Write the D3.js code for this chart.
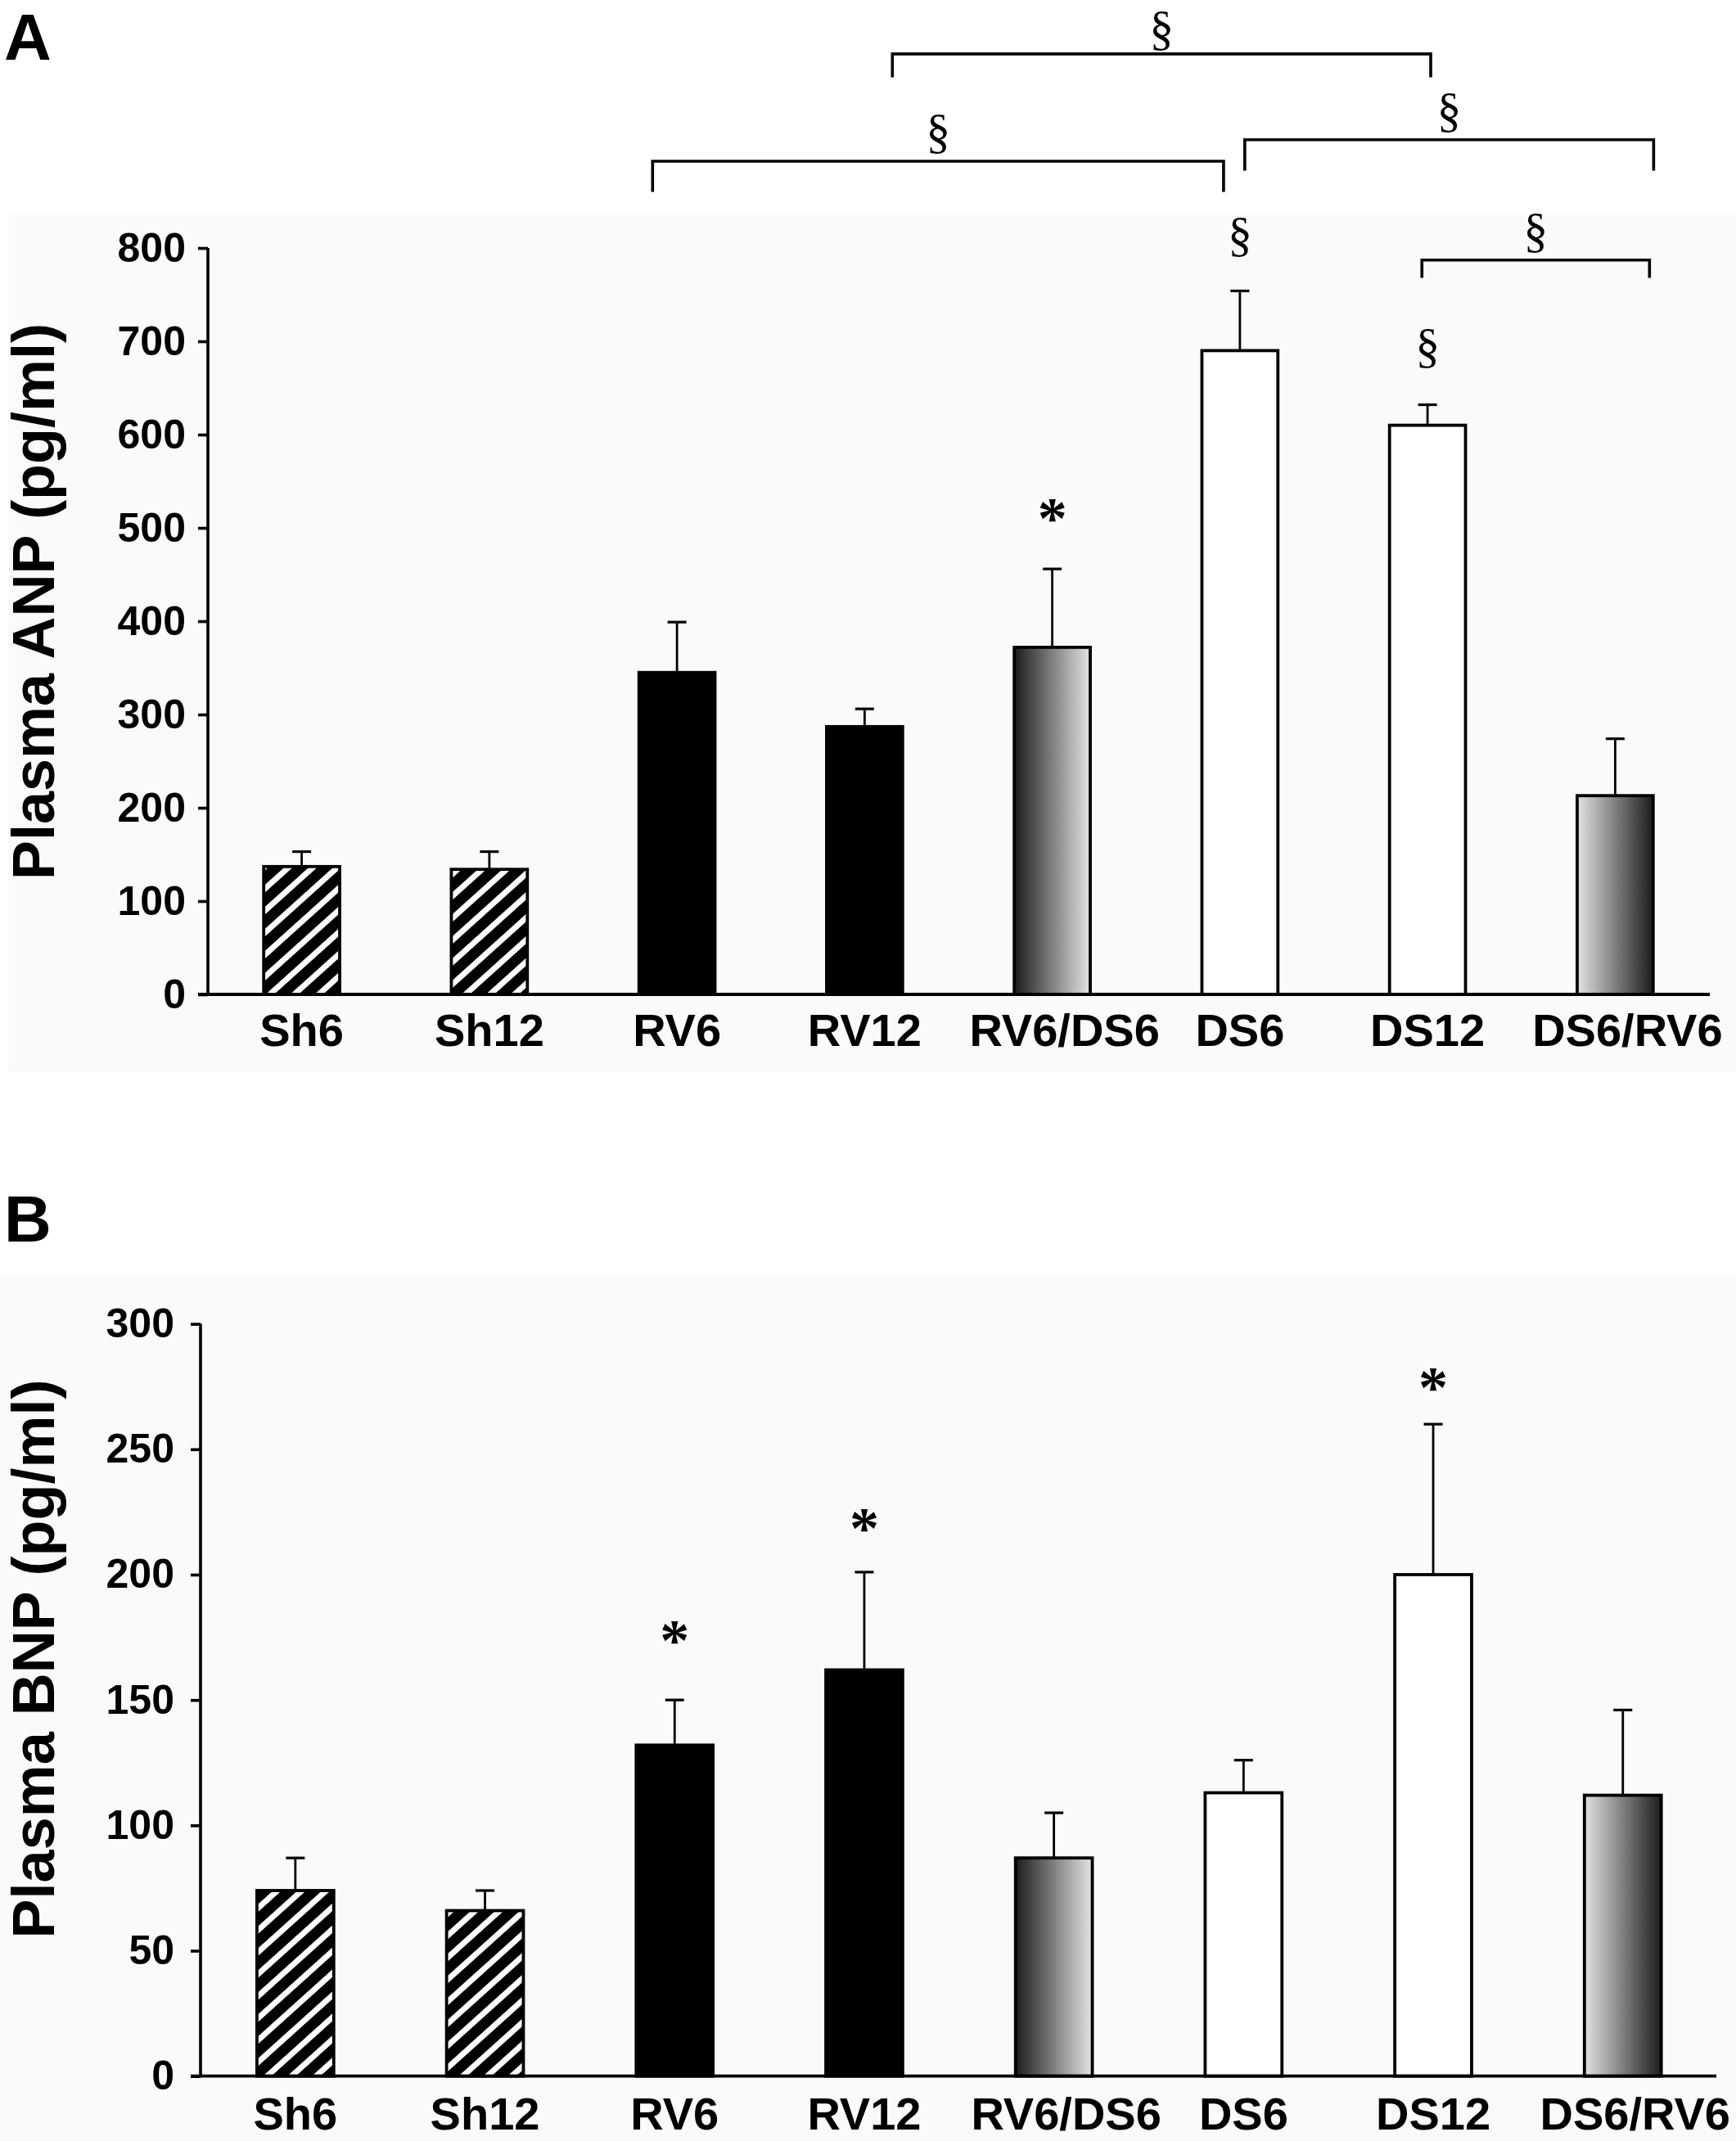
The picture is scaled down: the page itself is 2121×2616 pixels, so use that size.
<!DOCTYPE html>
<html>
<head>
<meta charset="utf-8">
<script src="https://cdn.jsdelivr.net/npm/d3@7/dist/d3.min.js"></script>
<style>
  html, body { margin: 0; padding: 0; background: #ffffff; }
  svg { display: block; }
</style>
</head>
<body>
<script>
// ---------------- DATA ----------------
const categories = ["Sh6", "Sh12", "RV6", "RV12", "RV6/DS6", "DS6", "DS12", "DS6/RV6"];

// Panel A: Plasma ANP (pg/ml)
const anpMean = [137, 134, 345, 287, 372, 690, 610, 213];
const anpErrTop = [153, 153, 399, 306, 456, 754, 632, 274];
const anpTicks = [0, 100, 200, 300, 400, 500, 600, 700, 800];

// Panel B: Plasma BNP (pg/ml)
const bnpMean = [74, 66, 132, 162, 87, 113, 200, 112];
const bnpErrTop = [87, 74, 150, 201, 105, 126, 260, 146];
const bnpTicks = [0, 50, 100, 150, 200, 250, 300];

// significance marks above bars (value = vertical anchor in data units)
const anpMarkCats = ["RV6/DS6", "DS6", "DS12"];
const anpMarkSyms = ["*", "§", "§"];
const anpMarkAt = [519, 813, 694];

const bnpMarkCats = ["RV6", "RV12", "DS12"];
const bnpMarkSyms = ["*", "*", "*"];
const bnpMarkAt = [177, 222, 278];

// comparison brackets in panel A: [fromCat, fromShift(steps), toCat, toShift(steps), lineValue, legEndValue]
const anpBrackets = [
  ["RV12", 0.148, "DS12", 0.017, 1008, 983],
  ["RV6", -0.13, "DS6", -0.087, 893, 860],
  ["DS6", 0.026, "DS6/RV6", 0.205, 916, 883],
  ["DS12", -0.03, "DS6/RV6", 0.183, 787, 768]
];

// ---------------- DRAW ----------------
const W = 2121, H = 2616;
const svg = d3.select("body").append("svg")
  .attr("width", W).attr("height", H)
  .attr("viewBox", `0 0 ${W} ${H}`);

svg.append("rect").attr("width", W).attr("height", H).attr("fill", "#ffffff");

const defs = svg.append("defs");
// hatch pattern
const pat = defs.append("pattern")
  .attr("id", "hatch").attr("patternUnits", "userSpaceOnUse")
  .attr("width", 20).attr("height", 20)
  .attr("patternTransform", "rotate(-42)");
pat.append("rect").attr("width", 20).attr("height", 20).attr("fill", "#000");
pat.append("rect").attr("width", 20).attr("height", 7).attr("fill", "#fff");
// gradients
const gDL = defs.append("linearGradient").attr("id", "gradDL")
  .attr("x1", 0).attr("x2", 1).attr("y1", 0).attr("y2", 0);
gDL.append("stop").attr("offset", "0%").attr("stop-color", "#1c1c1c");
gDL.append("stop").attr("offset", "100%").attr("stop-color", "#e4e4e4");
const gLD = defs.append("linearGradient").attr("id", "gradLD")
  .attr("x1", 0).attr("x2", 1).attr("y1", 0).attr("y2", 0);
gLD.append("stop").attr("offset", "0%").attr("stop-color", "#e2e2e2");
gLD.append("stop").attr("offset", "100%").attr("stop-color", "#1c1c1c");

function fillFor(cat) {
  if (cat.startsWith("Sh")) return "url(#hatch)";
  if (cat === "RV6/DS6") return "url(#gradDL)";
  if (cat === "DS6/RV6") return "url(#gradLD)";
  if (cat.startsWith("RV")) return "#000000";
  return "#ffffff";
}

const SANS = "'Liberation Sans', Arial, Helvetica, sans-serif";
const SERIF = "'Liberation Serif', 'Times New Roman', serif";

function drawPanel(cfg) {
  const g = svg.append("g");
  // faint panel background
  g.append("rect")
    .attr("x", cfg.bg[0]).attr("y", cfg.bg[1])
    .attr("width", cfg.bg[2]).attr("height", cfg.bg[3])
    .attr("fill", "#fafafa");

  const x = d3.scaleBand().domain(categories)
    .range(cfg.xRange).paddingInner(0.595).paddingOuter(0.2975);
  const y = d3.scaleLinear().domain(cfg.yDomain).range(cfg.yRange);
  const step = x.step();
  const cx = c => x(c) + x.bandwidth() / 2;

  // bars
  const rows = categories.map((c, i) => ({ c, m: cfg.mean[i], e: cfg.err[i] }));
  g.selectAll("rect.bar").data(rows).enter().append("rect")
    .attr("class", "bar")
    .attr("x", d => x(d.c)).attr("width", x.bandwidth())
    .attr("y", d => y(d.m)).attr("height", d => y(0) - y(d.m))
    .attr("fill", d => fillFor(d.c))
    .attr("stroke", "#000").attr("stroke-width", 3.8);

  // error bars
  g.selectAll("line.err").data(rows).enter().append("line")
    .attr("x1", d => cx(d.c)).attr("x2", d => cx(d.c))
    .attr("y1", d => y(d.m)).attr("y2", d => y(d.e))
    .attr("stroke", "#000").attr("stroke-width", 2.8);
  g.selectAll("line.cap").data(rows).enter().append("line")
    .attr("x1", d => cx(d.c) - 11.5).attr("x2", d => cx(d.c) + 11.5)
    .attr("y1", d => y(d.e)).attr("y2", d => y(d.e))
    .attr("stroke", "#000").attr("stroke-width", 3.2);

  // y axis
  const yAxis = d3.axisLeft(y).tickValues(cfg.ticks).tickSize(12).tickSizeOuter(0)
    .tickPadding(cfg.tickPad).tickFormat(d3.format("d"));
  const ya = g.append("g").attr("transform", `translate(${cfg.xRange[0]},0)`).call(yAxis);
  ya.select(".domain").attr("stroke", "#000").attr("stroke-width", 3.6)
    .attr("d", `M0,${y(0)}V${y(cfg.yDomain[1])}`);
  ya.selectAll(".tick line").attr("stroke", "#000").attr("stroke-width", 3.6);
  ya.selectAll(".tick text")
    .attr("font-family", SANS).attr("font-weight", "bold")
    .attr("font-size", 50).attr("fill", "#000");

  // x axis line
  g.append("line")
    .attr("x1", cfg.xAxisExt[0]).attr("x2", cfg.xAxisExt[1])
    .attr("y1", y(0)).attr("y2", y(0))
    .attr("stroke", "#000").attr("stroke-width", 3.8);

  // x labels (combined-group labels sit slightly right of their bar, as in the original)
  g.selectAll("text.xl").data(categories).enter().append("text")
    .attr("x", d => cx(d) + (d.includes("/") ? 15 : 0)).attr("y", y(0) + cfg.labelDy)
    .attr("text-anchor", "middle")
    .attr("font-family", SANS).attr("font-weight", "bold")
    .attr("font-size", 56).attr("fill", "#000")
    .text(d => d);

  // y title
  g.append("text")
    .attr("transform", `translate(${cfg.titleX},${cfg.titleY}) rotate(-90)`)
    .attr("text-anchor", "middle")
    .attr("font-family", SANS).attr("font-weight", "bold")
    .attr("font-size", 72).attr("fill", "#000")
    .text(cfg.title);

  // panel letter
  g.append("text").attr("x", cfg.letterPos[0]).attr("y", cfg.letterPos[1])
    .attr("font-family", SANS).attr("font-weight", "bold")
    .attr("font-size", 80).attr("fill", "#000").text(cfg.letter);

  // marks above bars
  cfg.markCats.forEach((c, i) => {
    const s = cfg.markSyms[i];
    const isStar = s === "*";
    g.append("text")
      .attr("x", cx(c))
      .attr("y", y(cfg.markAt[i]) + (isStar ? 34 : 18))
      .attr("text-anchor", "middle")
      .attr("font-family", SERIF)
      .attr("font-weight", isStar ? "bold" : "normal")
      .attr("font-size", isStar ? 72 : 60)
      .attr("fill", "#000").text(s);
  });

  // brackets
  (cfg.brackets || []).forEach(b => {
    const x1 = cx(b[0]) + b[1] * step;
    const x2 = cx(b[2]) + b[3] * step;
    const yl = y(b[4]), ye = y(b[5]);
    g.append("path")
      .attr("d", `M${x1},${ye}V${yl}H${x2}V${ye}`)
      .attr("fill", "none").attr("stroke", "#000").attr("stroke-width", 3.6);
    g.append("text")
      .attr("x", (x1 + x2) / 2).attr("y", Math.max(yl - 35 + 18, 54))
      .attr("text-anchor", "middle")
      .attr("font-family", SERIF).attr("font-size", 60)
      .attr("fill", "#000").text("§");
  });
}

drawPanel({
  letter: "A", letterPos: [5, 73],
  bg: [10, 261, 2111, 1048],
  xRange: [254, 2088], yDomain: [0, 800], yRange: [1215, 303],
  xAxisExt: [242, 2089], tickPad: 15,
  mean: anpMean, err: anpErrTop, ticks: anpTicks,
  labelDy: 63,
  title: "Plasma ANP (pg/ml)", titleX: 66, titleY: 735,
  markCats: anpMarkCats, markSyms: anpMarkSyms, markAt: anpMarkAt,
  brackets: anpBrackets
});

drawPanel({
  letter: "B", letterPos: [5, 1517],
  bg: [0, 1558, 2121, 1058],
  xRange: [245, 2098.6], yDomain: [0, 300], yRange: [2536.7, 1617.6],
  xAxisExt: [233, 2097], tickPad: 20,
  mean: bnpMean, err: bnpErrTop, ticks: bnpTicks,
  labelDy: 65,
  title: "Plasma BNP (pg/ml)", titleX: 66, titleY: 2027,
  markCats: bnpMarkCats, markSyms: bnpMarkSyms, markAt: bnpMarkAt
});
</script>
</body>
</html>
